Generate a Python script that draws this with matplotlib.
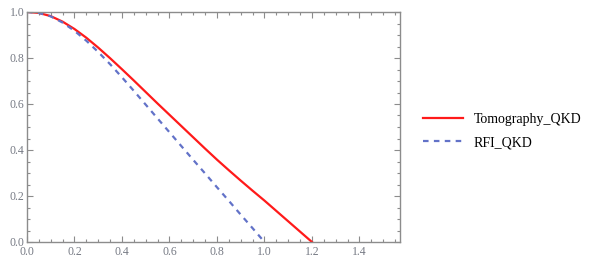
import numpy as np
import matplotlib
matplotlib.use("Agg")
import matplotlib.pyplot as plt
from matplotlib.ticker import MultipleLocator, FormatStrFormatter

# Data
x_tomo = [0.0, 0.05, 0.1, 0.15, 0.2, 0.25, 0.3, 0.35, 0.4, 0.45, 0.5, 0.55, 0.6,
          0.65, 0.7, 0.75, 0.8, 0.85, 0.9, 0.95, 1.0, 1.05, 1.1, 1.15, 1.2]
y_tomo = [1.0, 0.996, 0.982, 0.958, 0.926, 0.888, 0.845, 0.799, 0.751, 0.702, 0.652,
          0.602, 0.553, 0.504, 0.455, 0.406, 0.358, 0.312, 0.267, 0.223, 0.180,
          0.135, 0.090, 0.045, 0.0]
x_rfi = [0.0, 0.05, 0.1, 0.15, 0.2, 0.25, 0.3, 0.35, 0.4, 0.45, 0.5, 0.55, 0.6,
         0.65, 0.7, 0.75, 0.8, 0.85, 0.9, 0.95, 1.0]
y_rfi = [1.0, 0.996, 0.981, 0.954, 0.918, 0.875, 0.826, 0.773, 0.716, 0.657, 0.597,
         0.537, 0.477, 0.417, 0.357, 0.298, 0.238, 0.179, 0.119, 0.060, 0.0]
labels = ["Tomography_QKD", "RFI_QKD"]

plt.rcParams['font.family'] = ['Liberation Serif', 'DejaVu Serif']

fig = plt.figure(figsize=(5.98, 2.67), dpi=100)
ax = fig.add_axes([27/598, 25/267, 373/598, 230/267])

ax.plot(x_tomo, y_tomo, color='#ff1a1a', lw=1.6, label=labels[0])
ax.plot(x_rfi, y_rfi, color='#6272c8', lw=1.6, ls=(0, (2.5, 2.4)), label=labels[1])

ax.set_xlim(0, np.pi/2)
ax.set_ylim(0, 1.0)
ax.xaxis.set_major_locator(MultipleLocator(0.2))
ax.xaxis.set_minor_locator(MultipleLocator(0.05))
ax.yaxis.set_major_locator(MultipleLocator(0.2))
ax.yaxis.set_minor_locator(MultipleLocator(0.05))
ax.xaxis.set_major_formatter(FormatStrFormatter('%.1f'))
ax.yaxis.set_major_formatter(FormatStrFormatter('%.1f'))

frame_c = '#8c8c8c'
for s in ax.spines.values():
    s.set_color(frame_c)
    s.set_linewidth(1.0)
ax.tick_params(which='both', direction='in', top=True, right=True, color=frame_c,
               labelsize=8.5, labelcolor='#767a84', width=0.8)
ax.tick_params(which='major', length=4)
ax.tick_params(axis='x', which='major', pad=3)
ax.tick_params(axis='y', which='major', pad=2)
ax.tick_params(which='minor', length=2.5)

fig.legend(loc='center left', bbox_to_anchor=(410/598, 1 - 131/267), frameon=False,
           fontsize=10, handlelength=2.9, handletextpad=0.8, labelspacing=0.75)

fig.savefig('out.png', dpi=100)
